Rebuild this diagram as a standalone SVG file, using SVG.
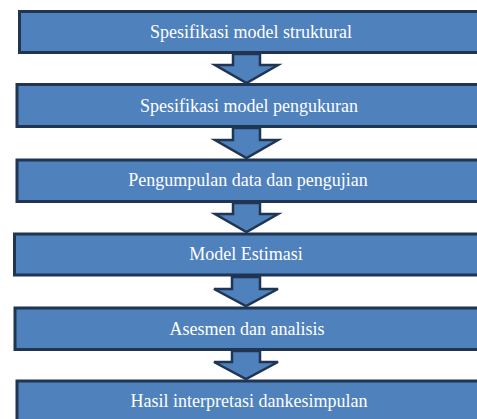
<svg xmlns="http://www.w3.org/2000/svg" width="477" height="419" viewBox="0 0 477 419">
<style>
.box{fill:#4f81bd;stroke:#1f3552;stroke-width:3}
.arr{fill:#4f81bd;stroke:#1f3552;stroke-width:2.5;stroke-linejoin:miter}
.lbl{font-family:"Liberation Serif","Times New Roman",serif;font-size:18px;fill:#ffffff;text-anchor:middle}
</style>
<rect width="477" height="419" fill="#ffffff"/>
<g id="connectors">
<path class="arr" d="M233,54 H260 V65 H278 L246.5,83 L215,65 H233 Z"/>
<path class="arr" d="M233,128 H260 V140 H278 L246.5,158 L215,140 H233 Z"/>
<path class="arr" d="M233,203 H260 V214 H278 L246.5,232 L215,214 H233 Z"/>
<path class="arr" d="M232,277 H260 V289 H278 L246,306 L214,289 H232 Z"/>
<path class="arr" d="M232,351 H260 V362 H278 L246,379 L214,362 H232 Z"/>
</g>
<g id="n1"><rect class="box" x="19.5" y="11.5" width="470" height="41"/><text class="lbl" x="251" y="38">Spesifikasi model struktural</text></g>
<g id="n2"><rect class="box" x="17" y="84.5" width="470" height="42"/><text class="lbl" x="249" y="112">Spesifikasi model pengukuran</text></g>
<g id="n3"><rect class="box" x="17" y="160" width="470" height="41.5"/><text class="lbl" x="248" y="186">Pengumpulan data dan pengujian</text></g>
<g id="n4"><rect class="box" x="14.5" y="234" width="470" height="41"/><text class="lbl" x="246" y="260">Model Estimasi</text></g>
<g id="n5"><rect class="box" x="15" y="308" width="470" height="41.5"/><text class="lbl" x="247" y="335">Asesmen dan analisis</text></g>
<g id="n6"><rect class="box" x="17" y="381" width="470" height="50"/><text class="lbl" x="249" y="407">Hasil interpretasi dankesimpulan</text></g>
</svg>
